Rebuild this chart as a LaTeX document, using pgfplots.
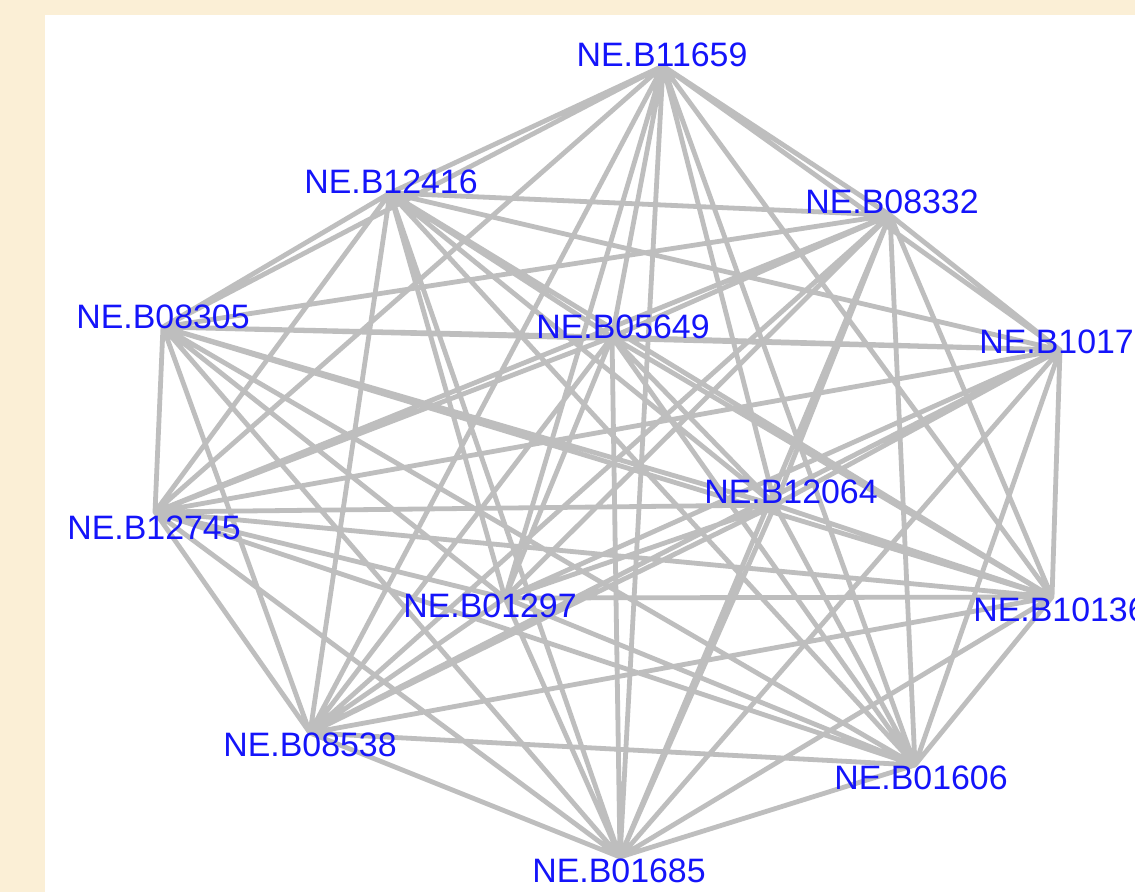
\documentclass[border=0pt]{standalone}
\usepackage{pgfplots}
\pgfplotsset{compat=1.18}
\usepackage{pgfplotstable}
\usepackage{fontspec}
\setmainfont{Liberation Sans}
\definecolor{parch}{RGB}{251,239,214}
\definecolor{edgegray}{RGB}{190,190,190}
\definecolor{labblue}{RGB}{20,20,250}

\pgfplotstableread{
x y label
662 55 NE.B11659
391 182 NE.B12416
892 202 NE.B08332
163 317 NE.B08305
623 327 NE.B05649
1066 342 NE.B10173
791 492 NE.B12064
154 528 NE.B12745
490 606 NE.B01297
1060 610 NE.B10136
310 745 NE.B08538
921 778 NE.B01606
619 871 NE.B01685
}\labels

\begin{document}
\begin{tikzpicture}
\begin{axis}[
  width=1135bp, height=892bp, scale only axis,
  xmin=0, xmax=1135, ymin=0, ymax=892, y dir=reverse,
  hide axis, clip=false,
]
\fill[parch] (axis cs:0,0) rectangle (axis cs:1135,892);
\fill[white] (axis cs:45,15) rectangle (axis cs:1135,892);
% all 78 edges of the complete graph on 13 nodes, as one Eulerian circuit
\addplot[edgegray, line width=4.8bp, line join=round, line cap=round, mark=none] coordinates {
(620,857) (663,66) (390,193) (915,765) (890,215) (310,733) (163,327) (1052,597) (612,337) (505,598) (1060,350) (155,512) (775,505)
(620,857) (390,193) (890,215) (663,66) (163,327) (915,765) (612,337) (310,733) (1060,350) (1052,597) (775,505) (505,598) (155,512)
(620,857) (890,215) (163,327) (390,193) (612,337) (663,66) (1060,350) (915,765) (775,505) (310,733) (155,512) (1052,597) (505,598)
(620,857) (163,327) (612,337) (890,215) (1060,350) (390,193) (775,505) (663,66) (155,512) (915,765) (505,598) (310,733) (1052,597)
(620,857) (612,337) (1060,350) (163,327) (775,505) (890,215) (155,512) (390,193) (505,598) (663,66) (1052,597) (915,765) (310,733)
(620,857) (1060,350) (775,505) (612,337) (155,512) (163,327) (505,598) (890,215) (1052,597) (390,193) (310,733) (663,66) (915,765)
(620,857)
};
\addplot[only marks, mark=none, point meta=explicit symbolic,
  nodes near coords,
  nodes near coords style={anchor=center, inner sep=0pt, text=labblue,
    font=\fontsize{34}{38}\selectfont}]
  table[meta=label] {\labels};
\end{axis}
\pgfresetboundingbox
\path (current axis.south west) rectangle (current axis.north east);
\end{tikzpicture}
\end{document}
